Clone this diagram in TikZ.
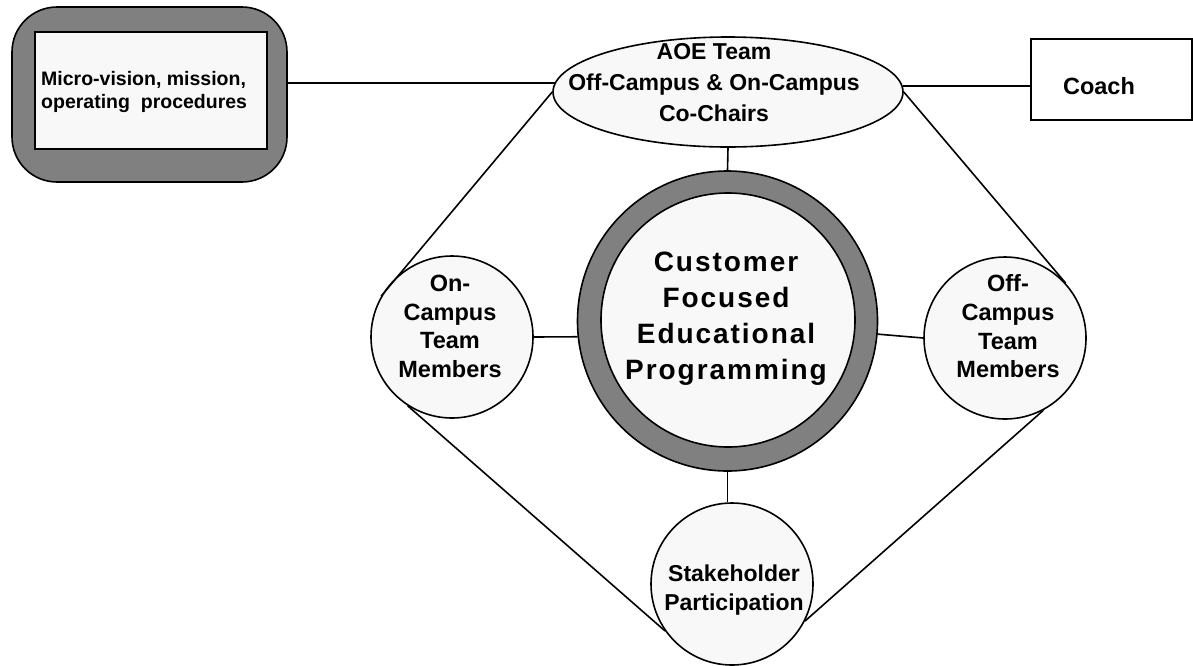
\documentclass[tikz,border=0pt]{standalone}
\usepackage{fontspec}
\setmainfont{Liberation Sans}
\usetikzlibrary{shapes.geometric}
\definecolor{ringgray}{RGB}{128,128,128}
\definecolor{paper}{RGB}{248,248,248}
\begin{document}
\begin{tikzpicture}[x=1pt,y=-1pt,
  outline/.style={draw=black, line width=1.6pt, inner sep=0pt},
  conn/.style={draw=black, line width=1.6pt},
  lbl/.style={align=center, inner sep=0pt, text=black},
  smallcirc/.style={outline, circle, fill=paper, minimum size=162pt},
  smalltxt/.style={lbl, font=\bfseries\fontsize{23.5}{28.7}\selectfont},
]
\useasboundingbox[fill=white] (0,0) rectangle (1193,665);
% top-left box
\node[outline, fill=ringgray, rounded corners=45pt, minimum width=275pt, minimum height=175pt] (mv) at (149.5,94.5) {};
\node[outline, fill=paper, minimum width=232pt, minimum height=117pt] (mvin) at (151,90.5) {};
\node[lbl, align=left, anchor=west, font=\bfseries\fontsize{19.5}{23}\selectfont] (mvt) at (41,92) {Micro-vision, mission,\\operating\ \ procedures};
% AOE ellipse
\node[outline, ellipse, fill=paper, minimum width=350pt, minimum height=110pt] (aoe) at (728,92) {};
\node[lbl, font=\bfseries\fontsize{23}{31}\selectfont] (aoet) at (714,83) {AOE Team\\Off-Campus \& On-Campus\\Co-Chairs};
% Coach
\node[outline, fill=white, minimum width=161pt, minimum height=81pt] (coach) at (1111.5,79.5) {};
\node[lbl, font=\bfseries\fontsize{23.5}{28}\selectfont] (coacht) at (1099,86) {Coach};
% central circle
\node[outline, circle, fill=ringgray, minimum size=300pt] (cfo) at (727.5,321) {};
\node[outline, circle, fill=paper, minimum size=254pt] (cfi) at (728,320) {};
\node[lbl, font=\bfseries\fontsize{28}{36}\selectfont\addfontfeatures{LetterSpace=7}] (cft) at (726,319) {Customer\\Focused\\Educational\\Programming};
% small circles
\node[smallcirc] (on) at (452,337) {};
\node[smalltxt] (ont) at (450,326.5) {On-\\Campus\\Team\\Members};
\node[smallcirc] (off) at (1005,338) {};
\node[smalltxt] (offt) at (1008,326.5) {Off-\\Campus\\Team\\Members};
\node[smallcirc] (st) at (732,584) {};
\node[lbl, font=\bfseries\fontsize{23}{29}\selectfont] (stt) at (734,590) {Stakeholder\\Participation};
% connectors
\draw[conn] (mv.east |- aoe.177.35) -- (aoe.177.35);
\draw[conn] (aoe.2.65) -- (coach.west |- aoe.2.65);
\draw[conn] (aoe.south) -- (cfo.north);
\draw[conn] (aoe.west) -- (on.150);
\draw[conn] (aoe.east) -- (off.42.5);
\draw[conn] (on.east) -- (cfo.186);
\draw[conn] (cfo.-5) -- (off.west);
\draw[conn] (cfo.south) -- (cfo.south |- st.north);
\draw[conn] (on.237.5) -- (st.215);
\draw[conn] (off.298.5) -- (st.333);
\end{tikzpicture}
\end{document}
